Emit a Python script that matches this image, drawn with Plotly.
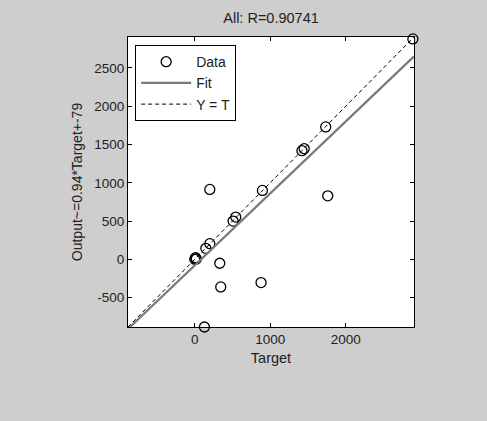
import plotly.graph_objects as go

targets = [2890, 1735, 1420, 1450, 199, 896, 1762, 508, 543, 199, 146, 0, 10, 20, 331, 344, 878, 128]
outputs = [2880, 1730, 1420, 1445, 913, 900, 829, 499, 551, 204, 143, 0, 20, 5, -52, -361, -305, -885]
fit_slope = 0.94
fit_intercept = -79
axis_min = -885
axis_max = 2905
title = "All: R=0.90741"
x_ticks = [0, 1000, 2000]
y_ticks = [-500, 0, 500, 1000, 1500, 2000, 2500]
x_tick_labels = ["0", "1000", "2000"]
y_tick_labels = ["-500", "0", "500", "1000", "1500", "2000", "2500"]

line_x = [axis_min, axis_max]
fit_y = [fit_slope * v + fit_intercept for v in line_x]

fig = go.Figure()
fig.add_trace(go.Scatter(x=targets, y=outputs, mode="markers", name="Data",
                         marker=dict(symbol="circle-open", size=10, color="black", line=dict(width=1.3)),
                         cliponaxis=False))
fig.add_trace(go.Scatter(x=line_x, y=fit_y, mode="lines", name="Fit",
                         line=dict(color="#7a7a7a", width=2.2)))
fig.add_trace(go.Scatter(x=line_x, y=line_x, mode="lines", name="Y = T",
                         line=dict(color="black", width=1, dash="4px,3px")))

axis_common = dict(range=[axis_min, axis_max], showgrid=False, zeroline=False,
                   showline=True, linecolor="black", linewidth=1, mirror="allticks",
                   ticks="inside", ticklen=4, tickcolor="black",
                   tickfont=dict(size=13.5, color="#222"))
fig.update_layout(
    width=487, height=421,
    margin=dict(l=128, r=73, t=37, b=94),
    paper_bgcolor="#cecece", plot_bgcolor="white",
    font=dict(family="Liberation Sans, Arial, sans-serif", color="#222", size=14),
    title=dict(text=title, x=0.5, xanchor="center", xref="paper", y=1 - 18/421, yanchor="middle",
               font=dict(size=14.5)),
    xaxis=dict(axis_common, title=dict(text="Target", standoff=6, font=dict(size=14.5)),
               tickmode="array", tickvals=x_ticks, ticktext=x_tick_labels),
    yaxis=dict(axis_common, title=dict(text="Output~=0.94*Target+-79", standoff=8, font=dict(size=14)),
               tickmode="array", tickvals=y_ticks, ticktext=y_tick_labels),
    legend=dict(x=0.025, y=0.972, xanchor="left", yanchor="top", bgcolor="white",
                bordercolor="black", borderwidth=1, font=dict(size=14),
                itemwidth=50, tracegroupgap=0),
    showlegend=True,
)
fig.write_html("out.html", config={"displayModeBar": False},
               post_script="document.body.style.margin='0';document.body.style.overflow='hidden';")
